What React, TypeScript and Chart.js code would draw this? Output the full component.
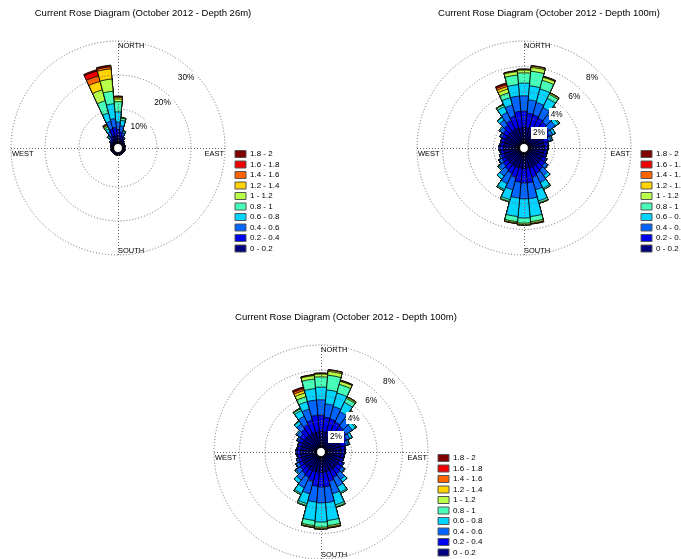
import React, { useEffect, useRef } from 'react';
import { Chart, registerables } from 'chart.js';

Chart.register(...registerables);

const FONT = 'Arial, "Liberation Sans", Helvetica, sans-serif';

// 36 direction sectors (degrees, clockwise from north)
const directions = [0, 10, 20, 30, 40, 50, 60, 70, 80, 90, 100, 110, 120, 130, 140, 150, 160, 170,
  180, 190, 200, 210, 220, 230, 240, 250, 260, 270, 280, 290, 300, 310, 320, 330, 340, 350];

// speed classes (m/s) and their colours
const speedBins = ['0 - 0.2', '0.2 - 0.4', '0.4 - 0.6', '0.6 - 0.8', '0.8 - 1', '1 - 1.2', '1.2 - 1.4', '1.4 - 1.6', '1.6 - 1.8', '1.8 - 2'];
const binColors = ['#000080', '#0000f0', '#0064ff', '#00d4ff', '#47ffb8', '#b8ff47', '#ffd400', '#ff6400', '#f00000', '#800000'];
const compassLabels = ['NORTH', 'EAST', 'SOUTH', 'WEST'];

// tick labels (percent)
const ticks26 = [10, 20, 30];
const ticks100 = [2, 4, 6, 8];

// ---- October 2012, depth 26 m : frequency (%) per speed class and direction ----
const d26_00_02 = [1.95, 1.5, 1.1, 0.8, 0.6, 0.5, 0.5, 0.5, 0.5, 0.5, 0.5, 0.4, 0.4, 0.4, 0.4, 0.3, 0.4, 0.4, 0.4, 0.4, 0.4, 0.3, 0.4, 0.4, 0.4, 0.4, 0.5, 0.5, 0.5, 0.5, 0.6, 0.7, 0.9, 1.2, 2.2, 2.2];
const d26_02_04 = [2.0, 1.8, 1.2, 0.7, 0.4, 0.3, 0.2, 0.2, 0.2, 0.2, 0.2, 0.2, 0.2, 0.2, 0.2, 0.2, 0.2, 0.2, 0.2, 0.2, 0.2, 0.2, 0.2, 0.2, 0.2, 0.2, 0.2, 0.2, 0.2, 0.3, 0.3, 0.5, 0.8, 1.3, 2.2, 2.4];
const d26_04_06 = [2.2, 1.8, 0.9, 0.4, 0.1, 0, 0, 0, 0, 0, 0, 0, 0, 0, 0, 0, 0, 0, 0, 0, 0, 0, 0, 0, 0, 0, 0, 0, 0, 0, 0, 0.3, 0.7, 1.3, 2.3, 2.6];
const d26_06_08 = [3.0, 1.6, 0.5, 0.1, 0, 0, 0, 0, 0, 0, 0, 0, 0, 0, 0, 0, 0, 0, 0, 0, 0, 0, 0, 0, 0, 0, 0, 0, 0, 0, 0, 0, 0.4, 1.0, 2.5, 4.4];
const d26_08_10 = [3.0, 0.6, 0.1, 0, 0, 0, 0, 0, 0, 0, 0, 0, 0, 0, 0, 0, 0, 0, 0, 0, 0, 0, 0, 0, 0, 0, 0, 0, 0, 0, 0, 0, 0.2, 0.6, 3.7, 3.7];
const d26_10_12 = [0.8, 0.2, 0, 0, 0, 0, 0, 0, 0, 0, 0, 0, 0, 0, 0, 0, 0, 0, 0, 0, 0, 0, 0, 0, 0, 0, 0, 0, 0, 0, 0, 0, 0, 0.4, 3.3, 3.6];
const d26_12_14 = [0.5, 0, 0, 0, 0, 0, 0, 0, 0, 0, 0, 0, 0, 0, 0, 0, 0, 0, 0, 0, 0, 0, 0, 0, 0, 0, 0, 0, 0, 0, 0, 0, 0, 0.2, 2.6, 3.0];
const d26_14_16 = [0.2, 0, 0, 0, 0, 0, 0, 0, 0, 0, 0, 0, 0, 0, 0, 0, 0, 0, 0, 0, 0, 0, 0, 0, 0, 0, 0, 0, 0, 0, 0, 0, 0, 0.2, 1.7, 0.6];
const d26_16_18 = [0.1, 0, 0, 0, 0, 0, 0, 0, 0, 0, 0, 0, 0, 0, 0, 0, 0, 0, 0, 0, 0, 0, 0, 0, 0, 0, 0, 0, 0, 0, 0, 0, 0, 0.1, 1.5, 0.3];
const d26_18_20 = [0.05, 0, 0, 0, 0, 0, 0, 0, 0, 0, 0, 0, 0, 0, 0, 0, 0, 0, 0, 0, 0, 0, 0, 0, 0, 0, 0, 0, 0, 0, 0, 0, 0, 0.05, 0.4, 0.2];

// ---- October 2012, depth 100 m ----
const d100_00_02 = [1.2, 1.2, 1.2, 1.2, 1.2, 1.2, 1.2, 1.2, 1.2, 1.2, 1.2, 1.2, 1.2, 1.2, 1.2, 1.2, 1.2, 1.2, 1.2, 1.2, 1.2, 1.2, 1.2, 1.2, 1.2, 1.2, 1.2, 1.2, 1.2, 1.2, 1.2, 1.2, 1.2, 1.2, 1.2, 1.2];
const d100_02_04 = [1.3, 1.15, 1.1, 1.0, 0.9, 0.8, 0.6, 0.4, 0.3, 0.25, 0.2, 0.2, 0.3, 0.4, 0.5, 0.6, 0.8, 1.15, 1.15, 1.1, 0.8, 0.6, 0.5, 0.4, 0.3, 0.25, 0.25, 0.3, 0.25, 0.25, 0.3, 0.4, 0.6, 0.8, 1.0, 1.3];
const d100_04_06 = [1.2, 1.05, 1.0, 0.9, 0.7, 0.6, 0.3, 0.2, 0.05, 0.05, 0.05, 0.05, 0.1, 0.25, 0.55, 0.8, 1.0, 1.25, 1.25, 1.25, 1.0, 0.9, 0.6, 0.4, 0.25, 0.15, 0.05, 0.1, 0.05, 0.05, 0.15, 0.3, 0.5, 0.7, 0.9, 1.2];
const d100_06_08 = [1.0, 1.1, 1.1, 0.8, 0.55, 0.3, 0.2, 0.1, 0, 0, 0, 0, 0, 0.05, 0.25, 0.5, 0.9, 1.4, 1.5, 1.45, 0.8, 0.5, 0.3, 0.1, 0.05, 0, 0, 0, 0, 0, 0.05, 0.1, 0.25, 0.5, 0.6, 0.9];
const d100_08_10 = [0.8, 1.15, 0.7, 0.35, 0.2, 0.1, 0, 0, 0, 0, 0, 0, 0, 0, 0, 0.1, 0.15, 0.4, 0.4, 0.4, 0.15, 0.1, 0, 0, 0, 0, 0, 0, 0, 0, 0, 0, 0.05, 0.15, 0.4, 0.75];
const d100_10_12 = [0.22, 0.3, 0.25, 0.1, 0.05, 0, 0, 0, 0, 0, 0, 0, 0, 0, 0, 0, 0.05, 0.12, 0.1, 0.1, 0.05, 0, 0, 0, 0, 0, 0, 0, 0, 0, 0, 0, 0, 0.05, 0.3, 0.27];
const d100_12_14 = [0.04, 0.1, 0.05, 0.05, 0, 0, 0, 0, 0, 0, 0, 0, 0, 0, 0, 0, 0, 0.04, 0.05, 0.05, 0, 0, 0, 0, 0, 0, 0, 0, 0, 0, 0, 0, 0, 0, 0.2, 0.04];
const d100_14_16 = [0.02, 0.02, 0.02, 0, 0, 0, 0, 0, 0, 0, 0, 0, 0, 0, 0, 0, 0, 0.02, 0, 0, 0, 0, 0, 0, 0, 0, 0, 0, 0, 0, 0, 0, 0, 0, 0.15, 0.02];
const d100_16_18 = [0.01, 0.01, 0.01, 0, 0, 0, 0, 0, 0, 0, 0, 0, 0, 0, 0, 0, 0, 0.01, 0, 0, 0, 0, 0, 0, 0, 0, 0, 0, 0, 0, 0, 0, 0, 0, 0.1, 0.01];
const d100_18_20 = [0.02, 0.02, 0.02, 0, 0, 0, 0, 0, 0, 0, 0, 0, 0, 0, 0, 0, 0, 0.01, 0, 0, 0, 0, 0, 0, 0, 0, 0, 0, 0, 0, 0, 0, 0, 0, 0.05, 0.02];

const bands26 = [d26_00_02, d26_02_04, d26_04_06, d26_06_08, d26_08_10, d26_10_12, d26_12_14, d26_14_16, d26_16_18, d26_18_20];
const bands100 = [d100_00_02, d100_02_04, d100_04_06, d100_06_08, d100_08_10, d100_10_12, d100_12_14, d100_14_16, d100_16_18, d100_18_20];

const HOLE = 5; // px, empty centre of the rose
const RADIUS = 107; // px, outer ring

type RoseProps = {
  title: string;
  bands: number[][];
  tickValues: number[];
  left: number;
  top: number;
  width: number;
  height: number;
  padLeft: number;
  padRight: number;
};

const overlayPlugin = {
  id: 'roseOverlay',
  afterDraw(chart: any, _args: any, opts: any) {
    const s = chart.scales.r;
    const ctx = chart.ctx as CanvasRenderingContext2D;
    const cx = s.xCenter;
    const cy = s.yCenter;
    const R = s.getDistanceFromCenterForValue(s.max);
    ctx.save();
    // cardinal axes
    ctx.strokeStyle = '#6a6a6a';
    ctx.lineWidth = 1;
    ctx.setLineDash([1, 2]);
    ctx.beginPath();
    ctx.moveTo(cx - R, cy + 0.5);
    ctx.lineTo(cx + R, cy + 0.5);
    ctx.moveTo(cx + 0.5, cy - R);
    ctx.lineTo(cx + 0.5, cy + R);
    ctx.stroke();
    ctx.setLineDash([]);
    // centre hole
    ctx.beginPath();
    ctx.arc(cx, cy, s.getDistanceFromCenterForValue(0) - 0.5, 0, Math.PI * 2);
    ctx.fillStyle = '#ffffff';
    ctx.fill();
    ctx.strokeStyle = '#000000';
    ctx.lineWidth = 1.2;
    ctx.stroke();
    // compass labels
    ctx.fillStyle = '#000000';
    ctx.font = `7.5px ${FONT}`;
    ctx.textBaseline = 'alphabetic';
    ctx.textAlign = 'left';
    ctx.fillText(compassLabels[0], cx, cy - R + 6.5);
    ctx.fillText(compassLabels[2], cx, cy + R - 2.5);
    ctx.fillText(compassLabels[3], cx - R + 1, cy + 8);
    ctx.textAlign = 'right';
    ctx.fillText(compassLabels[1], cx + R - 1, cy + 8);
    // radial tick labels with white backdrop
    ctx.font = `8.3px ${FONT}`;
    ctx.textAlign = 'center';
    ctx.textBaseline = 'middle';
    const ang = (44 * Math.PI) / 180;
    (opts.tickValues as number[]).forEach((v) => {
      const d = s.getDistanceFromCenterForValue(v) - 9;
      const x = cx + d * Math.sin(ang);
      const y = cy - d * Math.cos(ang);
      const text = `${v}%`;
      const w = ctx.measureText(text).width + 4;
      ctx.fillStyle = '#ffffff';
      ctx.fillRect(Math.round(x - w / 2), Math.round(y - 6), Math.round(w), 12);
      ctx.fillStyle = '#000000';
      ctx.fillText(text, x, y + 0.5);
    });
    ctx.restore();
  },
};

function buildConfig(p: RoseProps): any {
  const max = p.tickValues[p.tickValues.length - 1];
  const min = (-HOLE * max) / (RADIUS - HOLE);
  const cumulative: number[][] = [];
  let running = directions.map(() => 0);
  p.bands.forEach((band) => {
    running = running.map((v, i) => v + band[i]);
    cumulative.push(running);
  });
  return {
    type: 'polarArea',
    data: {
      labels: directions.map((d) => `${d}°`),
      datasets: cumulative.map((data, k) => ({
        label: speedBins[k],
        data,
        backgroundColor: binColors[k],
        borderColor: '#000000',
        borderWidth: 0.8,
      })),
    },
    options: {
      responsive: false,
      animation: false,
      devicePixelRatio: 1,
      events: [],
      layout: { padding: { left: p.padLeft, right: p.padRight, top: 0, bottom: 5 } },
      plugins: {
        tooltip: { enabled: false },
        title: {
          display: true,
          text: p.title,
          color: '#000000',
          font: { family: FONT, size: 9.5, weight: 'normal', lineHeight: 1.2 },
          padding: { top: 8, bottom: 21.6 },
        },
        legend: {
          position: 'right',
          align: 'end',
          maxWidth: 50,
          labels: {
            boxWidth: 11,
            boxHeight: 7,
            padding: 2.5,
            color: '#000000',
            font: { family: FONT, size: 8 },
            generateLabels: () =>
              speedBins
                .map((text, k) => ({
                  text,
                  fillStyle: binColors[k],
                  strokeStyle: '#555555',
                  fontColor: '#000000',
                  lineWidth: 1,
                  hidden: false,
                  datasetIndex: k,
                }))
                .reverse(),
          },
        },
        roseOverlay: { tickValues: p.tickValues },
      },
      scales: {
        r: {
          min,
          max,
          startAngle: -5,
          afterBuildTicks: (scale: any) => {
            scale.ticks = [min, ...p.tickValues].map((value) => ({ value }));
          },
          ticks: { display: false },
          pointLabels: { display: false },
          angleLines: { display: false },
          grid: {
            circular: true,
            z: 1,
            color: (c: any) => (c.tick && c.tick.value > 0 ? '#6a6a6a' : 'rgba(0,0,0,0)'),
            lineWidth: (c: any) => (c.tick && c.tick.value > 0 ? 1 : 0),
          },
          border: { dash: [1, 2] },
        },
      },
    },
    plugins: [overlayPlugin],
  };
}

function RoseChart(p: RoseProps) {
  const ref = useRef<HTMLCanvasElement>(null);
  useEffect(() => {
    if (!ref.current) return;
    const chart = new Chart(ref.current, buildConfig(p));
    return () => chart.destroy();
  }, []);
  return (
    <canvas
      ref={ref}
      width={p.width}
      height={p.height}
      style={{ position: 'absolute', left: p.left, top: p.top, width: p.width, height: p.height }}
    />
  );
}

export default function App() {
  return (
    <div
      style={{
        position: 'absolute',
        left: 0,
        top: 0,
        width: 681,
        height: 559,
        overflow: 'hidden',
        background: '#ffffff',
      }}
    >
      <RoseChart
        title="Current Rose Diagram (October 2012 - Depth 26m)"
        bands={bands26}
        tickValues={ticks26}
        left={0}
        top={0}
        width={340}
        height={260}
        padLeft={3.5}
        padRight={57.5}
      />
      <RoseChart
        title="Current Rose Diagram (October 2012 - Depth 100m)"
        bands={bands100}
        tickValues={ticks100}
        left={340}
        top={0}
        width={400}
        height={260}
        padLeft={69.5}
        padRight={51.5}
      />
      <RoseChart
        title="Current Rose Diagram (October 2012 - Depth 100m)"
        bands={bands100}
        tickValues={ticks100}
        left={203}
        top={304}
        width={340}
        height={260}
        padLeft={3.5}
        padRight={57.5}
      />
    </div>
  );
}
